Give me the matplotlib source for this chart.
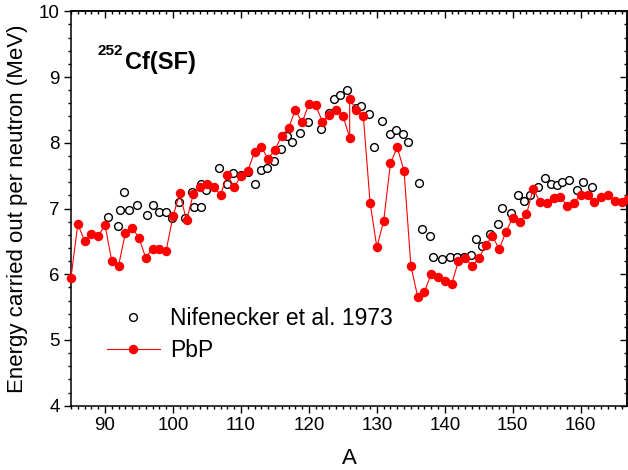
import numpy as np
import matplotlib
matplotlib.use('Agg')
import matplotlib.pyplot as plt
from matplotlib.ticker import MultipleLocator

plt.rcParams['font.family'] = ['Liberation Sans', 'DejaVu Sans']

# PbP calculation (red line + dots)
A_pbp = [85, 86, 87, 88, 89, 90, 91, 92, 93, 94, 95, 96, 97, 98, 99, 100,
         101, 102, 103, 104, 105, 106, 107, 108, 109, 110, 111, 112, 113, 114,
         115, 116, 117, 118, 119, 120, 121, 122, 123, 124, 125, 126, 126, 127,
         128, 129, 130, 131, 132, 133, 134, 135, 136, 137, 138, 139, 140, 141,
         142, 143, 144, 145, 146, 147, 148, 149, 150, 151, 152, 153, 154, 155,
         156, 157, 158, 159, 160, 161, 162, 163, 164, 165, 166, 167]
E_pbp = [5.95, 6.76, 6.51, 6.61, 6.58, 6.75, 6.20, 6.13, 6.63, 6.71, 6.55, 6.25,
         6.39, 6.38, 6.36, 6.88, 7.23, 6.82, 7.22, 7.32, 7.37, 7.32, 7.21, 7.51,
         7.33, 7.49, 7.57, 7.86, 7.93, 7.76, 7.89, 8.11, 8.22, 8.50, 8.31, 8.59,
         8.57, 8.32, 8.42, 8.50, 8.41, 8.08, 8.66, 8.50, 8.41, 7.09, 6.41, 6.81,
         7.69, 7.93, 7.57, 6.13, 5.66, 5.73, 6.01, 5.96, 5.90, 5.85, 6.20, 6.25,
         6.12, 6.24, 6.44, 6.58, 6.38, 6.65, 6.86, 6.80, 6.91, 7.30, 7.10, 7.08,
         7.16, 7.18, 7.04, 7.08, 7.21, 7.21, 7.10, 7.18, 7.21, 7.11, 7.10, 7.15]

# Nifenecker et al. 1973 (open circles)
A_nif = [90.5, 91.9, 92.2, 92.8, 93.6, 94.75, 96.2, 97.1, 97.9, 99.0, 99.9,
         100.9, 101.8, 102.8, 103.1, 104.1, 104.1, 104.9, 106.8, 107.9, 108.9,
         109.95, 111.0, 112.0, 112.9, 113.9, 114.8, 115.9, 116.8, 117.5, 118.7,
         119.9, 121.8, 123.0, 123.7, 124.6, 125.6, 127.0, 127.7, 128.8, 129.6,
         130.8, 131.9, 132.8, 133.9, 134.6, 136.2, 136.6, 137.75, 138.2, 139.6,
         140.8, 141.8, 142.8, 143.8, 144.6, 145.5, 146.7, 147.75, 148.4, 149.8,
         150.7, 151.7, 152.55, 153.7, 154.7, 155.6, 156.5, 157.3, 158.3, 159.5,
         160.4, 161.6]
E_nif = [6.87, 6.73, 6.98, 7.25, 6.97, 7.06, 6.90, 7.06, 6.95, 6.95, 6.86,
         7.10, 6.86, 7.25, 7.02, 7.02, 7.38, 7.28, 7.61, 7.38, 7.54,
         7.51, 7.55, 7.37, 7.59, 7.61, 7.72, 7.91, 8.11, 8.01, 8.15,
         8.31, 8.21, 8.46, 8.66, 8.73, 8.80, 8.53, 8.56, 8.44, 7.93,
         8.33, 8.14, 8.19, 8.14, 8.01, 7.39, 6.69, 6.58, 6.26, 6.23,
         6.26, 6.26, 6.26, 6.30, 6.53, 6.43, 6.61, 6.77, 7.01, 6.93,
         7.20, 7.11, 7.20, 7.33, 7.47, 7.38, 7.36, 7.41, 7.44, 7.28,
         7.41, 7.33]

W, H = 628, 470
fig = plt.figure(figsize=(W / 100, H / 100), dpi=100)
ax = fig.add_axes([71 / W, 1 - 405.7 / H, (627 - 71) / W, (405.7 - 11.3) / H])

ax.plot(A_nif, E_nif, 'o', mfc='white', mec='black', mew=1.0, ms=5.6,
        label='Nifenecker et al. 1973', clip_on=False, zorder=3)
ax.plot(A_pbp, E_pbp, '-o', color='red', lw=0.8, ms=5.8, mec='red',
        label='PbP', clip_on=False, zorder=4)

ax.set_xlim(85, 166.8)
ax.set_ylim(4, 10)
ax.xaxis.set_major_locator(MultipleLocator(10))
ax.xaxis.set_minor_locator(MultipleLocator(1))
ax.yaxis.set_major_locator(MultipleLocator(1))
ax.yaxis.set_minor_locator(MultipleLocator(0.2))
ax.tick_params(which='both', direction='out', width=1.0, labelsize=13.5, pad=3)
ax.tick_params(which='major', length=5)
ax.tick_params(which='minor', length=2.5)
for s in ax.spines.values():
    s.set_linewidth(1.1)

# top / right axes with inward ticks
top = ax.secondary_xaxis('top')
top.xaxis.set_major_locator(MultipleLocator(10))
top.xaxis.set_minor_locator(MultipleLocator(1))
top.tick_params(which='both', direction='in', labeltop=False, width=1.0)
top.tick_params(which='major', length=5)
top.tick_params(which='minor', length=2.5)
right = ax.secondary_yaxis('right')
right.yaxis.set_major_locator(MultipleLocator(1))
right.yaxis.set_minor_locator(MultipleLocator(0.2))
right.tick_params(which='both', direction='in', labelright=False, width=1.0)
right.tick_params(which='major', length=5)
right.tick_params(which='minor', length=2.5)
for sa in (top, right):
    for s in sa.spines.values():
        s.set_linewidth(1.1)

ax.set_xlabel('A', fontsize=16, labelpad=10)
ax.set_ylabel('Energy carried out per neutron (MeV)', fontsize=16, labelpad=8)

fig.text(98 / W, 1 - 55 / H, '252', fontsize=11, fontweight='bold', va='baseline')
fig.text(125 / W, 1 - 69 / H, 'Cf(SF)', fontsize=17, fontweight='bold', va='baseline')

ax.legend(loc='upper left', bbox_to_anchor=(107 / W, 1 - 307 / H),
          bbox_transform=fig.transFigure, frameon=False, fontsize=16.5,
          handlelength=2.3, handletextpad=0.45, labelspacing=0.38,
          borderpad=0, borderaxespad=0)

fig.savefig('out.png', dpi=100)
